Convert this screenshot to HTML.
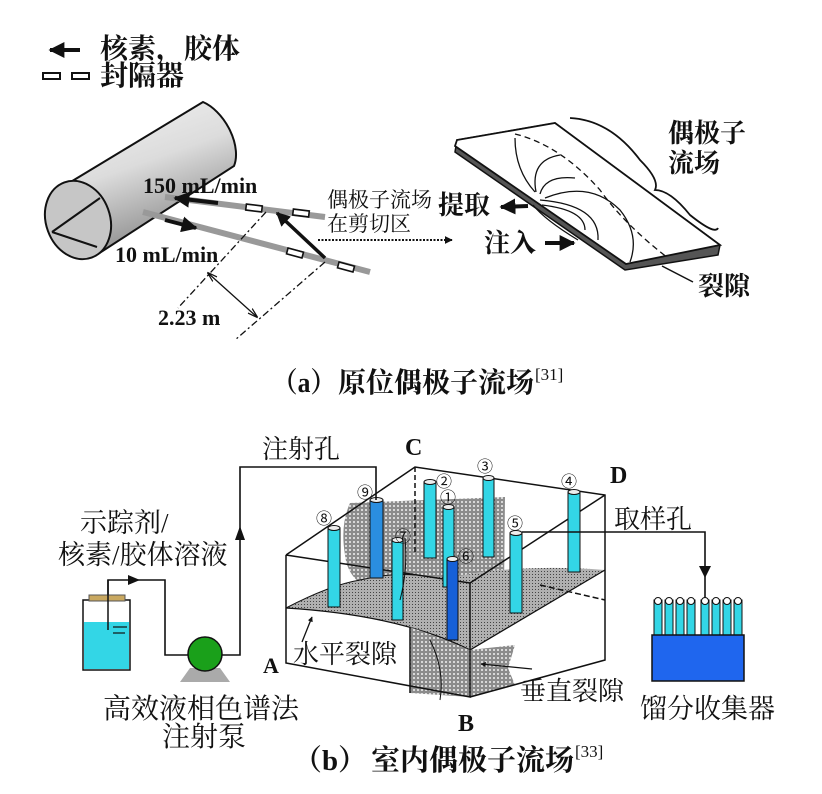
<!DOCTYPE html>
<html><head><meta charset="utf-8"><style>
html,body{margin:0;padding:0;background:#fff}
svg{display:block}
.c{font-family:"Liberation Serif","Noto Serif CJK SC",serif;font-weight:bold;fill:#111}
.n{font-family:"Liberation Serif","Noto Serif CJK SC",serif;fill:#111}
.s{font-family:"Liberation Sans","Noto Sans CJK SC",sans-serif;fill:#111}
</style></head><body>
<svg width="822" height="794" viewBox="0 0 822 794" xmlns="http://www.w3.org/2000/svg">
<defs>
<linearGradient id="cyl" x1="0" y1="0" x2="0.4" y2="1">
<stop offset="0" stop-color="#f4f4f4"/><stop offset="0.5" stop-color="#dcdcdc"/><stop offset="1" stop-color="#8a8a8a"/>
</linearGradient>
<pattern id="mesh" width="4" height="4" patternUnits="userSpaceOnUse">
<rect width="4" height="4" fill="#8c8c8c"/><rect x="1" y="1" width="2" height="2" fill="#d8d8d8"/>
</pattern>
<pattern id="dots" width="3" height="3" patternUnits="userSpaceOnUse">
<rect width="3" height="3" fill="#b0b0b0"/><rect x="1" y="1" width="1" height="1" fill="#444"/>
</pattern>
<marker id="ahs" viewBox="0 0 10 10" refX="9" refY="5" markerWidth="4" markerHeight="4" orient="auto"><path d="M0,0L10,5L0,10z" fill="#111"/></marker>
<marker id="ah2" viewBox="0 0 10 10" refX="9" refY="5" markerWidth="8" markerHeight="8" orient="auto-start-reverse"><path d="M0,2L10,5L0,8" fill="none" stroke="#111" stroke-width="1.2"/></marker>
</defs>

<!-- legend -->
<line x1="80" y1="50" x2="50" y2="50" stroke="#111" stroke-width="4" marker-end="url(#ahs)"/>
<text x="100" y="58" class="c" font-size="28">核素，胶体</text>
<rect x="43" y="73" width="17" height="6" fill="#fff" stroke="#111" stroke-width="2"/>
<rect x="72" y="73" width="17" height="6" fill="#fff" stroke="#111" stroke-width="2"/>
<text x="100" y="85" class="c" font-size="28">封隔器</text>

<!-- cylinder -->
<path d="M64,186 L203,102 A25,42 -30 0 1 234,166 L98,254 Z" fill="url(#cyl)" stroke="#111" stroke-width="2"/>
<ellipse cx="78" cy="220" rx="32" ry="40" transform="rotate(-20 78 220)" fill="#c6c6c6" stroke="#111" stroke-width="2"/>
<line x1="52" y1="232" x2="100" y2="198" stroke="#111" stroke-width="2"/>
<line x1="52" y1="232" x2="97" y2="247" stroke="#111" stroke-width="2"/>

<!-- rods -->
<line x1="165" y1="197" x2="325" y2="217" stroke="#999" stroke-width="6"/>
<line x1="143" y1="212" x2="370" y2="272" stroke="#999" stroke-width="6"/>
<g fill="#fff" stroke="#111" stroke-width="1.6">
<rect x="246" y="205" width="16" height="6" transform="rotate(7 254 208)"/>
<rect x="293" y="210" width="16" height="6" transform="rotate(7 301 213)"/>
<rect x="287" y="250" width="16" height="6" transform="rotate(15 295 253)"/>
<rect x="338" y="264" width="16" height="6" transform="rotate(15 346 267)"/>
</g>
<line x1="218" y1="203" x2="175" y2="198" stroke="#111" stroke-width="4" marker-end="url(#ahs)"/>
<line x1="165" y1="220" x2="196" y2="228" stroke="#111" stroke-width="4" marker-end="url(#ahs)"/>
<line x1="325" y1="258" x2="277" y2="213" stroke="#111" stroke-width="3.5" marker-end="url(#ahs)"/>
<text x="143" y="193" class="c" font-size="22">150 mL/min</text>
<text x="115" y="262" class="c" font-size="22">10 mL/min</text>
<line x1="266" y1="212" x2="178" y2="308" stroke="#111" stroke-width="1.3" stroke-dasharray="7,3,2,3"/>
<line x1="325" y1="262" x2="235" y2="340" stroke="#111" stroke-width="1.3" stroke-dasharray="7,3,2,3"/>
<line x1="208" y1="273" x2="257" y2="317" stroke="#111" stroke-width="1.3" marker-start="url(#ah2)" marker-end="url(#ah2)"/>
<text x="158" y="325" class="c" font-size="22">2.23 m</text>

<text x="327" y="207" class="n" font-size="21">偶极子流场</text>
<text x="327" y="231" class="n" font-size="21">在剪切区</text>
<line x1="318" y1="240" x2="452" y2="240" stroke="#111" stroke-width="2" stroke-dasharray="2,1.5" marker-end="url(#ahs)"/>

<!-- fracture slab -->
<path d="M457,140 L555,123 L720,245 L718,255 L625,270 L455,152 Z" fill="#555" stroke="#111" stroke-width="1.5"/>
<path d="M457,140 L555,123 L720,245 L626,264 L455,146 Z" fill="#fff" stroke="#111" stroke-width="1.8"/>
<g fill="none" stroke="#111" stroke-width="1.3">
<path d="M515,134 Q560,145 600,190 Q625,225 668,258" stroke-dasharray="6,4"/>
<path d="M535,192 Q515,170 515,138"/>
<path d="M536,192 Q530,160 560,155"/>
<path d="M540,194 Q545,175 575,178"/>
<path d="M545,198 Q590,180 620,210 Q640,235 630,262"/>
<path d="M540,200 Q600,205 598,240"/>
<path d="M542,205 Q585,210 585,230"/>
<path d="M533,205 Q545,220 578,240"/>
</g>
<path d="M570,118 Q610,120 640,160 Q660,180 655,190 Q670,190 690,215 Q715,235 718,228" fill="none" stroke="#111" stroke-width="1.8"/>
<text x="668" y="142" class="c" font-size="26">偶极子</text>
<text x="668" y="172" class="c" font-size="26">流场</text>
<text x="438" y="214" class="c" font-size="26">提取</text>
<line x1="528" y1="206" x2="501" y2="207" stroke="#111" stroke-width="4" marker-end="url(#ahs)"/>
<text x="484" y="252" class="c" font-size="26">注入</text>
<line x1="545" y1="243" x2="574" y2="243" stroke="#111" stroke-width="4" marker-end="url(#ahs)"/>
<line x1="662" y1="266" x2="693" y2="282" stroke="#111" stroke-width="1.5"/>
<text x="698" y="295" class="c" font-size="26">裂隙</text>

<text x="272" y="392" class="c" font-size="28" textLength="64" lengthAdjust="spacingAndGlyphs">（a）</text>
<text x="338" y="392" class="c" font-size="28">原位偶极子流场</text>
<text x="535" y="380" class="n" font-size="17">[31]</text>

<!-- (b) box -->
<polygon points="286,555 470,583 470,697 286,663" fill="#fff"/>
<!-- vertical fracture (upper part, behind) -->
<path d="M350,503 L505,497 L504,590 L470,650 L410,627 L385,595 Q348,585 345,555 Q340,525 350,503 Z" fill="url(#mesh)"/>
<!-- horizontal fracture -->
<path d="M286,608 Q330,585 360,580 Q390,573 415,575 Q450,580 480,572 Q540,565 605,570 L470,650 Q400,615 286,608 Z" fill="url(#dots)"/>
<path d="M286,608 Q400,615 470,650 L605,570" fill="none" stroke="#111" stroke-width="1.3"/>
<path d="M286,608 Q330,585 360,580 Q390,573 415,575" fill="none" stroke="#111" stroke-width="1"/>
<!-- vertical fracture front -->
<path d="M410,627 Q440,637 470,650 L515,645 L508,668 L515,685 L470,697 L410,693 Z" fill="url(#mesh)"/>
<path d="M430,640 Q445,670 440,700" fill="none" stroke="#111" stroke-width="1"/>
<!-- box edges -->
<g fill="none" stroke="#111" stroke-width="1.5">
<polyline points="286,555 470,583 470,697 286,663 286,555"/>
<polyline points="286,555 415,467 605,495 605,660 470,697"/>
<line x1="470" y1="583" x2="605" y2="495"/>
<line x1="415" y1="467" x2="415" y2="555" stroke-dasharray="5,3"/>
<line x1="540" y1="585" x2="605" y2="600" stroke-dasharray="6,3"/>
<line x1="410" y1="627" x2="410" y2="693"/>
</g>

<!-- wells -->
<g stroke="#111" stroke-width="1">
<rect x="328" y="528" width="12" height="79" fill="#33d6e6"/><ellipse cx="334" cy="528" rx="6" ry="2.5" fill="#eee"/>
<rect x="370" y="500" width="13" height="78" fill="#2a8ee0"/><ellipse cx="376.5" cy="500" rx="6.5" ry="2.5" fill="#eee"/>
<rect x="392" y="540" width="11" height="80" fill="#33d6e6"/><ellipse cx="397.5" cy="540" rx="5.5" ry="2.5" fill="#eee"/>
<rect x="424" y="482" width="12" height="76" fill="#33d6e6"/><ellipse cx="430" cy="482" rx="6" ry="2.5" fill="#eee"/>
<rect x="443" y="507" width="11" height="80" fill="#33d6e6"/><ellipse cx="448.5" cy="507" rx="5.5" ry="2.5" fill="#eee"/>
<rect x="483" y="478" width="11" height="79" fill="#33d6e6"/><ellipse cx="488.5" cy="478" rx="5.5" ry="2.5" fill="#eee"/>
<rect x="510" y="533" width="12" height="80" fill="#33d6e6"/><ellipse cx="516" cy="533" rx="6" ry="2.5" fill="#eee"/>
<rect x="568" y="492" width="12" height="80" fill="#33d6e6"/><ellipse cx="574" cy="492" rx="6" ry="2.5" fill="#eee"/>
<rect x="447" y="559" width="11" height="81" fill="#1660d8"/><ellipse cx="452.5" cy="559" rx="5.5" ry="2.5" fill="#eee"/>
</g>
<g font-size="16">
<text x="316" y="524" class="s">⑧</text>
<text x="357" y="498" class="s">⑨</text>
<text x="395" y="542" class="s">⑦</text>
<text x="436" y="487" class="s">②</text>
<text x="440" y="503" class="s">①</text>
<text x="477" y="472" class="s">③</text>
<text x="561" y="487" class="s">④</text>
<text x="507" y="529" class="s">⑤</text>
<text x="458" y="562" class="s">⑥</text>
</g>
<path d="M405,538 Q408,570 400,600" fill="none" stroke="#111" stroke-width="1"/>

<!-- pipes -->
<g fill="none" stroke="#111" stroke-width="1.6">
<polyline points="222,655 240,655 240,467 376,467 376,500"/>
<polyline points="108,625 108,580 165,580 165,655 190,655"/>
<polyline points="522,532 705,532 705,600"/>
</g>
<path d="M240,526 L235,540 L245,540 Z" fill="#111"/>
<path d="M140,580 L128,575 L128,585 Z" fill="#111"/>
<path d="M705,578 L699,566 L711,566 Z" fill="#111"/>

<!-- bottle -->
<rect x="83" y="600" width="47" height="70" fill="#fff" stroke="#111" stroke-width="1.5"/>
<rect x="84" y="622" width="45" height="47" fill="#33d6e6"/>
<rect x="89" y="595" width="36" height="6" fill="#c9a860" stroke="#555" stroke-width="1"/>
<line x1="108" y1="580" x2="108" y2="630" stroke="#111" stroke-width="1.5"/>
<line x1="113" y1="627" x2="127" y2="627" stroke="#111" stroke-width="1.2"/>
<line x1="113" y1="633" x2="125" y2="633" stroke="#111" stroke-width="1.2"/>
<!-- pump -->
<polygon points="180,682 230,682 220,668 190,668" fill="#aaa"/>
<circle cx="205" cy="654" r="17" fill="#1aa01a" stroke="#111" stroke-width="1.5"/>

<!-- collector -->
<g stroke="#111" stroke-width="1">
<rect x="654" y="600" width="8" height="37" fill="#33d6e6"/>
<rect x="665" y="600" width="8" height="37" fill="#33d6e6"/>
<rect x="676" y="600" width="8" height="37" fill="#33d6e6"/>
<rect x="687" y="600" width="8" height="37" fill="#33d6e6"/>
<rect x="701" y="600" width="8" height="37" fill="#33d6e6"/>
<rect x="712" y="600" width="8" height="37" fill="#33d6e6"/>
<rect x="723" y="600" width="8" height="37" fill="#33d6e6"/>
<rect x="734" y="600" width="8" height="37" fill="#33d6e6"/>
<rect x="652" y="635" width="92" height="46" fill="#1f66ee" stroke-width="1.5"/>
</g>
<g fill="#fff" stroke="#111" stroke-width="1">
<circle cx="658" cy="601" r="3.5"/><circle cx="669" cy="601" r="3.5"/><circle cx="680" cy="601" r="3.5"/><circle cx="691" cy="601" r="3.5"/>
<circle cx="705" cy="601" r="3.5"/><circle cx="716" cy="601" r="3.5"/><circle cx="727" cy="601" r="3.5"/><circle cx="738" cy="601" r="3.5"/>
</g>

<!-- labels b -->
<text x="262" y="458" class="n" font-size="26">注射孔</text>
<text x="405" y="455" class="c" font-size="24">C</text>
<text x="610" y="483" class="c" font-size="24">D</text>
<text x="614" y="528" class="n" font-size="26">取样孔</text>
<text x="263" y="673" class="c" font-size="22">A</text>
<text x="458" y="731" class="c" font-size="24">B</text>
<text x="80" y="532" class="n" font-size="27">示踪剂/</text>
<text x="58" y="564" class="n" font-size="27">核素/胶体溶液</text>
<text x="293" y="663" class="n" font-size="26">水平裂隙</text>
<line x1="302" y1="642" x2="312" y2="617" stroke="#111" stroke-width="1.3" marker-end="url(#ahs)"/>
<text x="520" y="700" class="n" font-size="26">垂直裂隙</text>
<line x1="532" y1="669" x2="481" y2="664" stroke="#111" stroke-width="1.3" marker-end="url(#ahs)"/>
<text x="640" y="718" class="n" font-size="27">馏分收集器</text>
<text x="103" y="718" class="n" font-size="28">高效液相色谱法</text>
<text x="162" y="746" class="n" font-size="28">注射泵</text>

<text x="293" y="770" class="c" font-size="29" textLength="74" lengthAdjust="spacingAndGlyphs">（b）</text>
<text x="371" y="770" class="c" font-size="29">室内偶极子流场</text>
<text x="575" y="757" class="n" font-size="17">[33]</text>
</svg>
</body></html>
